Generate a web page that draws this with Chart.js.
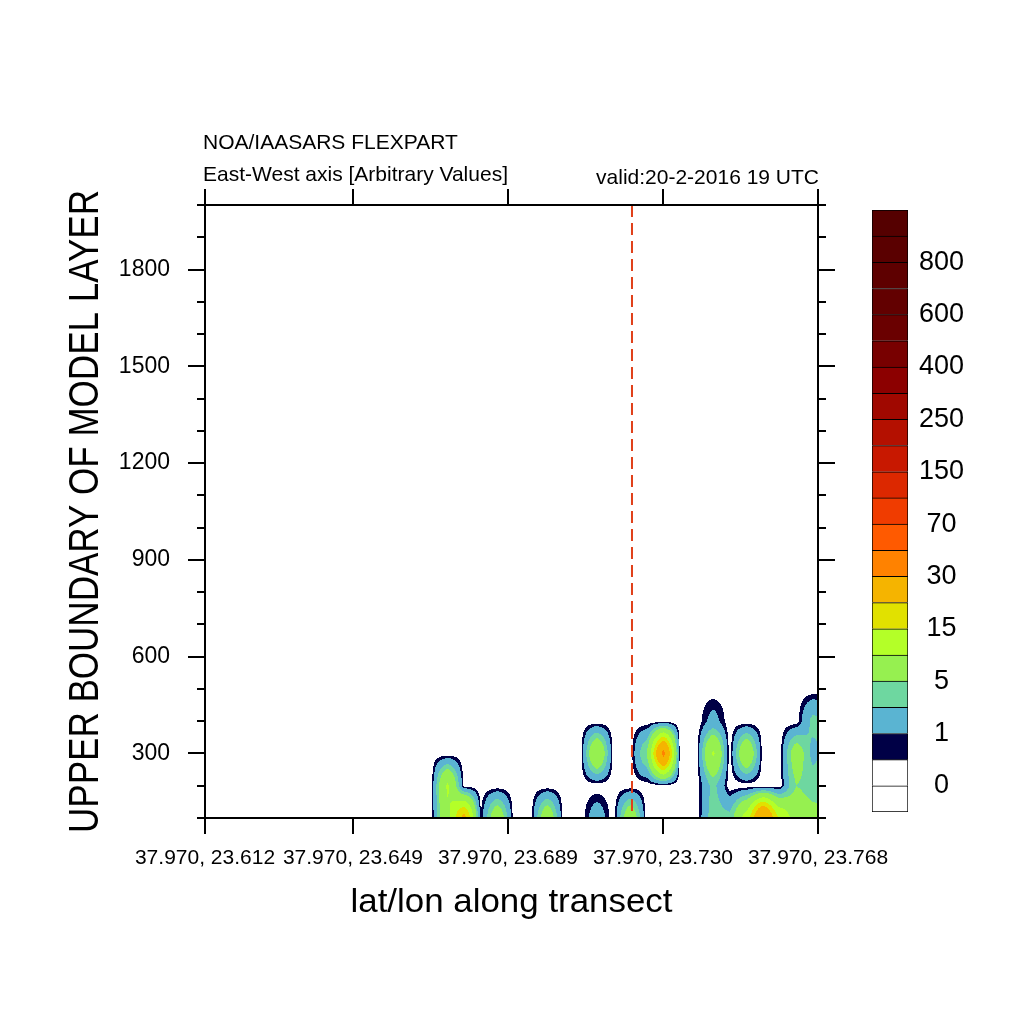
<!DOCTYPE html>
<html><head><meta charset="utf-8">
<script src="https://cdn.jsdelivr.net/npm/chart.js@4.4.0/dist/chart.umd.min.js"></script>
<style>
html,body{margin:0;padding:0;background:#fff;}
#wrap{position:relative;width:1024px;height:1024px;overflow:hidden;}
#main{position:absolute;left:0;top:0;}
#bar{position:absolute;left:860px;top:200px;}
</style></head><body>
<div id="wrap">
<canvas id="main" width="1024" height="1024"></canvas>
<canvas id="bar" width="150" height="625"></canvas>
</div>
<script>
// ---- data ----
const xTickValues = [0, 21, 43, 65, 87];
const xTickLabels = ["37.970, 23.612", "37.970, 23.649", "37.970, 23.689", "37.970, 23.730", "37.970, 23.768"];
const heightRows = [100, 200, 300, 400, 500];
const columnX = [32.07, 34.43, 36.79, 39.14, 41.50, 43.85, 46.21, 48.57, 50.92, 53.28, 55.63, 57.99, 60.35,
                 62.70, 65.06, 67.41, 69.77, 72.13, 74.48, 76.84, 79.19, 81.55, 83.91, 86.26, 88.62];
const conc100 = [0, 9, 22, 0.4, 8, 0, 0, 8, 0, 0, 2, 0, 8, 0, 0, 0, 0, 4, 3.5, 12, 31, 14, 8, 6, 5];
const conc200 = [0, 10.5, 0, 0, 0, 0, 0, 0, 0, 0, 0, 0, 0, 0, 0, 0, 0, 3.5, 0, 0, 0, 0, 5, 4, 4];
const conc300 = [0, 0, 0, 0, 0, 0, 0, 0, 0, 0, 9.5, 0, 0, 5, 32, 0, 0, 10.5, 0, 9, 0, 0, 7, 2.5, 4];
const conc400 = [0, 0, 0, 0, 0, 0, 0, 0, 0, 0, 0, 0, 0, 0, 0, 0, 0, 1.5, 0, 0, 0, 0, 0, 3.5, 3];
const conc500 = [0, 0, 0, 0, 0, 0, 0, 0, 0, 0, 0, 0, 0, 0, 0, 0, 0, 0, 0, 0, 0, 0, 0, 0, 0];
const contourLevels = [0, 0.4, 1, 3, 5, 10, 15, 20, 30, 50, 70, 100, 150, 200, 250, 300, 400, 500, 600, 700, 800, 900];
const levelColors = ['#ffffff', '#ffffff', '#000046', '#5ab4d2', '#6ed7a0', '#96f050', '#b4ff28', '#e1e100',
  '#f5b400', '#ff8200', '#ff5a00', '#f03c00', '#dc2800', '#c81800', '#b41000', '#a00800', '#8c0000',
  '#780000', '#6a0000', '#620000', '#5e0000', '#5a0000', '#550000'];
const colorbarLabels = ["0", "1", "5", "15", "30", "70", "150", "250", "400", "600", "800"];
const colorbarUnits = levelColors.map(() => 1);
const markerX = [60.6, 60.6];
const markerY = [2000, 100];
const titleTop = "NOA/IAASARS FLEXPART";
const titleSub = "East-West axis [Arbitrary Values]";
const titleValid = "valid:20-2-2016 19 UTC";
const yTitle = "UPPER BOUNDARY OF MODEL LAYER";
const xTitle = "lat/lon along transect";

const FONT = "'Liberation Sans', Arial, Helvetica, sans-serif";
Chart.defaults.font.family = FONT;
Chart.defaults.color = '#000';

const concRows = [conc100, conc200, conc300, conc400, conc500];
function sm(t) { return 0.5 * t + 0.5 * t * t * (3 - 2 * t); }
function levelIndex(v) { let k = 0; while (k < contourLevels.length && v >= contourLevels[k]) k++; return k; }

const contourPlugin = {
  id: 'contour',
  beforeDatasetsDraw(chart) {
    const { ctx, chartArea: a, scales: { x, y } } = chart;
    const L = Math.round(a.left), R = Math.round(a.right), T = Math.round(a.top), B = Math.round(a.bottom);
    const nc = columnX.length, nr = heightRows.length;
    const colI = [], colT = [];
    for (let px = L; px < R; px++) {
      const xv = x.getValueForPixel(px + 0.5);
      if (xv < columnX[0] || xv > columnX[nc - 1]) { colI.push(-1); colT.push(0); continue; }
      let i = 0; while (i < nc - 2 && xv > columnX[i + 1]) i++;
      colI.push(i); colT.push(sm((xv - columnX[i]) / (columnX[i + 1] - columnX[i])));
    }
    ctx.save();
    for (let py = T; py < B; py++) {
      let yv = y.getValueForPixel(py + 0.5);
      if (yv >= heightRows[nr - 1]) continue;
      if (yv < heightRows[0]) yv = heightRows[0];
      let j = 0; while (j < nr - 2 && yv > heightRows[j + 1]) j++;
      const ty = sm((yv - heightRows[j]) / (heightRows[j + 1] - heightRows[j]));
      const r0 = concRows[j], r1 = concRows[j + 1];
      let runC = -1, runS = L;
      for (let px = L; px <= R; px++) {
        let c = 1;
        if (px < R) {
          const k = px - L, i = colI[k];
          if (i >= 0) {
            const tx = colT[k];
            const v = (1 - ty) * ((1 - tx) * r0[i] + tx * r0[i + 1]) + ty * ((1 - tx) * r1[i] + tx * r1[i + 1]);
            c = levelIndex(v);
          }
        } else c = -2;
        if (c !== runC) {
          if (runC > 1) { ctx.fillStyle = levelColors[runC]; ctx.fillRect(runS, py, px - runS, 1); }
          runC = c; runS = px;
        }
      }
    }
    ctx.restore();
  }
};

function fitText(ctx, text, x, y, font, width, rot) {
  ctx.save();
  ctx.font = font;
  const w = ctx.measureText(text).width;
  ctx.translate(x, y);
  if (rot) ctx.rotate(rot);
  ctx.scale(width / w, 1);
  ctx.textAlign = 'center';
  ctx.textBaseline = 'alphabetic';
  ctx.fillText(text, 0, 0);
  ctx.restore();
}

const framePlugin = {
  id: 'frame',
  afterDraw(chart) {
    const { ctx, chartArea: a, scales: { x, y } } = chart;
    const L = Math.round(a.left), R = Math.round(a.right), T = Math.round(a.top), B = Math.round(a.bottom);
    ctx.save();
    ctx.strokeStyle = '#000';
    ctx.lineWidth = 2;
    ctx.beginPath();
    x.ticks.forEach(t => {
      const px = Math.round(x.getPixelForValue(t.value));
      ctx.moveTo(px, B); ctx.lineTo(px, B + 16);
      ctx.moveTo(px, T); ctx.lineTo(px, T - 16);
    });
    y.ticks.forEach(t => {
      const py = Math.round(y.getPixelForValue(t.value));
      const len = (t.value % 300 === 0) ? 17 : 8;
      ctx.moveTo(L, py); ctx.lineTo(L - len, py);
      ctx.moveTo(R, py); ctx.lineTo(R + len, py);
    });
    ctx.stroke();
    ctx.strokeRect(L, T, R - L, B - T);
    // texts
    ctx.fillStyle = '#000';
    ctx.font = "21px " + FONT;
    ctx.textBaseline = 'alphabetic';
    ctx.textAlign = 'left';
    ctx.fillText(titleTop, L - 2, 149);
    ctx.fillText(titleSub, L - 2, 181);
    ctx.textAlign = 'right';
    ctx.fillText(titleValid, R + 1, 184);
    fitText(ctx, yTitle, 98, (T + B) / 2, "42px " + FONT, 643, -Math.PI / 2);
    fitText(ctx, xTitle, (L + R) / 2, 912, "34px " + FONT, 322, 0);
    ctx.restore();
  }
};

new Chart(document.getElementById('main'), {
  type: 'scatter',
  data: {
    datasets: [{
      data: markerX.map((v, i) => ({ x: v, y: markerY[i] })),
      showLine: true, borderColor: '#e0401a', borderWidth: 2, borderDash: [12, 6],
      pointRadius: 0, fill: false
    }]
  },
  options: {
    responsive: false, animation: false, devicePixelRatio: 1, events: [],
    layout: { padding: { left: 65, right: 206, top: 205, bottom: 106 } },
    plugins: { legend: { display: false }, tooltip: { enabled: false } },
    scales: {
      x: {
        type: 'linear', min: 0, max: 87,
        afterBuildTicks(s) { s.ticks = xTickValues.map(v => ({ value: v })); },
        afterFit(s) { s.height = 100; },
        grid: { display: false, drawTicks: true, tickLength: 16 },
        border: { display: false },
        ticks: {
          autoSkip: false, maxRotation: 0, minRotation: 0, padding: 12,
          font: { size: 21 }, color: '#000',
          callback(v) { const i = xTickValues.indexOf(v); return i >= 0 ? xTickLabels[i] : ''; }
        }
      },
      y: {
        type: 'linear', min: 100, max: 2000,
        afterFit(s) { s.width = 140; },
        grid: { display: false, drawTicks: true, tickLength: 17 },
        border: { display: false },
        ticks: {
          stepSize: 100, autoSkip: false, padding: 18,
          font: { size: 23 }, color: '#000',
          callback(v) { return (v % 300 === 0) ? String(v) : ''; }
        }
      }
    }
  },
  plugins: [contourPlugin, framePlugin]
});

new Chart(document.getElementById('bar'), {
  type: 'bar',
  data: {
    labels: [''],
    datasets: levelColors.map((c, i) => ({
      data: [colorbarUnits[i]], backgroundColor: c, borderColor: '#000', borderWidth: 1,
      borderSkipped: i === 0 ? false : 'start', barPercentage: 1, categoryPercentage: 1
    }))
  },
  options: {
    responsive: false, animation: false, devicePixelRatio: 1, events: [],
    layout: { padding: { left: 12, top: 10, right: 0, bottom: 13 } },
    plugins: { legend: { display: false }, tooltip: { enabled: false } },
    scales: {
      x: { display: false, stacked: true },
      y: {
        position: 'right', stacked: true, min: 0, max: 23,
        afterFit(s) { s.width = 102; s.paddingTop = 0; s.paddingBottom = 0; },
        grid: { display: false, drawTicks: false },
        border: { display: false },
        ticks: {
          stepSize: 1, autoSkip: false, padding: 11, crossAlign: 'center',
          font: { size: 27 }, color: '#000',
          callback(v) { return (v % 2 === 1 && v <= 21) ? colorbarLabels[(v - 1) / 2] : ''; }
        }
      }
    }
  }
});
</script>
</body></html>
